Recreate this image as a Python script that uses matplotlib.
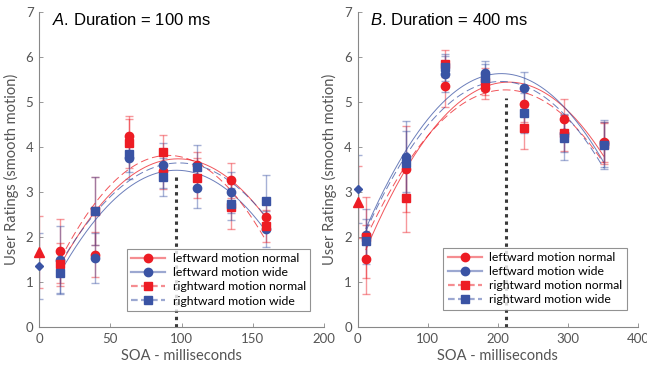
import matplotlib
matplotlib.use("Agg")
import matplotlib.pyplot as plt
from matplotlib.lines import Line2D
import numpy as np

plt.rcParams["font.family"] = ["Lato", "DejaVu Sans"]
plt.rcParams["mathtext.fontset"] = "custom"
plt.rcParams["mathtext.it"] = "Liberation Sans:italic"
plt.rcParams["mathtext.rm"] = "Liberation Sans"

RED = "#ed1c24"
BLUE = "#3a53a4"
GREY = "#555555"

labels = ["leftward motion normal", "leftward motion wide",
          "rightward motion normal", "rightward motion wide"]

# panel A: duration 100 ms
soa_a = [15, 39, 63, 87, 111, 135, 159]
a_left_normal = [1.69, 1.61, 4.24, 3.47, 3.60, 3.26, 2.45]
a_left_wide = [1.50, 1.54, 3.75, 3.60, 3.10, 2.99, 2.18]
a_right_normal = [1.39, 2.58, 4.08, 3.88, 3.31, 2.67, 2.25]
a_right_wide = [1.19, 2.58, 3.84, 3.34, 3.56, 2.73, 2.81]
a_left_normal_err = [0.72, 0.50, 0.45, 0.40, 0.30, 0.39, 0.30]
a_left_wide_err = [0.74, 0.56, 0.45, 0.50, 0.45, 0.46, 0.40]
a_right_normal_err = [0.48, 0.76, 0.55, 0.39, 0.45, 0.50, 0.35]
a_right_wide_err = [0.45, 0.76, 0.40, 0.42, 0.48, 0.35, 0.57]
a_static = [1.67, 1.36]          # triangle (normal), diamond (wide) at SOA 0
a_static_err = [0.80, 0.74]
a_peak = (96, 3.38)

# panel B: duration 400 ms
soa_b = [12, 69, 125, 182, 238, 295, 351]
b_left_normal = [1.51, 3.51, 5.35, 5.32, 4.95, 4.62, 4.12]
b_left_wide = [2.06, 3.79, 5.62, 5.65, 5.32, 4.32, 4.08]
b_right_normal = [2.00, 2.87, 5.85, 5.45, 4.43, 4.32, 4.08]
b_right_wide = [1.91, 3.66, 5.77, 5.54, 4.76, 4.21, 4.04]
b_left_normal_err = [0.76, 0.95, 0.45, 0.26, 0.40, 0.44, 0.45]
b_left_wide_err = [0.57, 0.79, 0.40, 0.27, 0.36, 0.42, 0.52]
b_right_normal_err = [0.90, 0.76, 0.30, 0.30, 0.47, 0.40, 0.45]
b_right_wide_err = [0.50, 0.70, 0.30, 0.30, 0.45, 0.50, 0.52]
b_static = [2.78, 3.07]
b_static_err = [0.80, 0.76]
b_peak = (212, 5.10)


def panel(ax, soa, series, errs, static, static_err, peak, xmax, xstep, title):
    colors = [RED, BLUE, RED, BLUE]
    markers = ["o", "o", "s", "s"]
    styles = ["-", "-", (0, (8, 4)), (0, (8, 4))]
    sizes = [6, 6, 5.3, 5.3]
    x = np.array(soa, dtype=float)
    xs = np.linspace(x[0], x[-1], 200)
    for y, e, c, m, ls, ms in zip(series, errs, colors, markers, styles, sizes):
        ax.errorbar(x, y, yerr=e, fmt="none", ecolor=c, alpha=0.45,
                    elinewidth=1, capsize=3, capthick=1, zorder=2)
        coef = np.polyfit(x, y, 2)
        ax.plot(xs, np.polyval(coef, xs), color=c, ls=ls, lw=0.7,
                alpha=0.75, zorder=3)
        ax.plot(x, y, ls="none", marker=m, ms=ms, color=c, zorder=4)
    # static reference points at SOA 0
    ax.errorbar([0], [static[0]], yerr=[static_err[0]], fmt="none", ecolor=RED,
                alpha=0.45, elinewidth=1, capsize=3, zorder=2)
    ax.errorbar([0], [static[1]], yerr=[static_err[1]], fmt="none", ecolor=BLUE,
                alpha=0.45, elinewidth=1, capsize=3, zorder=2)
    ax.plot([0], [static[0]], marker="^", ms=6.5, color=RED, ls="none",
            zorder=4, clip_on=False)
    ax.plot([0], [static[1]], marker="D", ms=4.5, color=BLUE, ls="none",
            zorder=4, clip_on=False)
    ax.plot([peak[0], peak[0]], [0, peak[1]], color="#3a3a3a", lw=2.2,
            ls=(0, (1.1, 1.3)), zorder=1)

    ax.set_xlim(0, xmax)
    ax.set_ylim(0, 7)
    ax.set_xticks(np.arange(0, xmax + 1, xstep))
    ax.set_yticks(range(0, 8))
    for s in ["top", "right"]:
        ax.spines[s].set_visible(False)
    for s in ["left", "bottom"]:
        ax.spines[s].set_color("#888888")
        ax.spines[s].set_linewidth(0.8)
    ax.tick_params(direction="in", length=3, width=0.6, color="#888888",
                   labelcolor=GREY, labelsize=9.5, pad=4)
    ax.set_xlabel("SOA - milliseconds", color=GREY, fontsize=10.5, labelpad=3)
    ax.set_ylabel("User Ratings (smooth motion)", color=GREY, fontsize=10.5,
                  labelpad=5)
    ax.text(0.046, 0.975, title, transform=ax.transAxes, fontsize=12,
            family="Liberation Sans", va="center", ha="left")

    handles = []
    for c, m, ls, ms in zip(colors, markers, styles, sizes):
        line = Line2D([], [], color=c, alpha=0.5, lw=1.6,
                      ls=ls if ls == "-" else (0, (3, 1.5)))
        mark = Line2D([], [], color=c, marker=m, ms=ms, ls="none")
        handles.append((line, mark))
    leg = ax.legend(handles, labels, loc="lower right", fontsize=8.8,
                    frameon=True, fancybox=False, handlelength=2.8,
                    borderpad=0.35, labelspacing=0.25, handletextpad=0.6)
    leg.get_frame().set_edgecolor("#777777")
    leg.get_frame().set_linewidth(0.8)
    return leg


fig = plt.figure(figsize=(6.47, 3.73), dpi=100)
ax1 = fig.add_axes([0.0603, 0.1233, 0.4405, 0.8445])
ax2 = fig.add_axes([0.5526, 0.1220, 0.4335, 0.8458])

leg1 = panel(ax1, soa_a,
             [a_left_normal, a_left_wide, a_right_normal, a_right_wide],
             [a_left_normal_err, a_left_wide_err, a_right_normal_err, a_right_wide_err],
             a_static, a_static_err, a_peak, 200, 50,
             r"$\it{A}$. Duration = 100 ms")
leg1.set_bbox_to_anchor((0.972, 0.032), transform=ax1.transAxes)

leg2 = panel(ax2, soa_b,
             [b_left_normal, b_left_wide, b_right_normal, b_right_wide],
             [b_left_normal_err, b_left_wide_err, b_right_normal_err, b_right_wide_err],
             b_static, b_static_err, b_peak, 400, 100,
             r"$\it{B}$. Duration = 400 ms")
leg2.set_bbox_to_anchor((0.981, 0.037), transform=ax2.transAxes)

fig.savefig("out.png", dpi=100)
